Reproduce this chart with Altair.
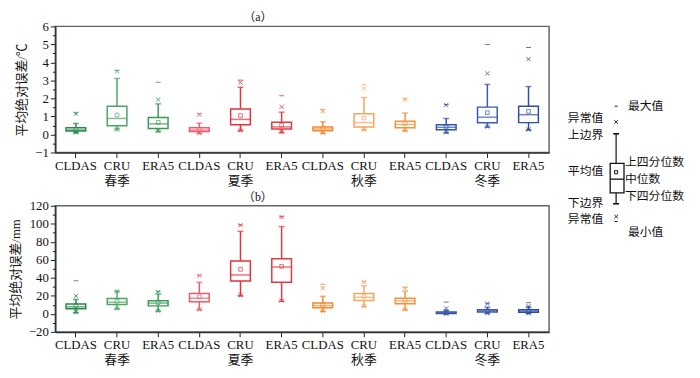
import altair as alt
import pandas as pd

seasons = ["春季", "夏季", "秋季", "冬季"]
products = ["CLDAS", "CRU", "ERA5"]
colors = ["#2b8a4b", "#4ea563", "#3a9a55",
          "#f05a66", "#e5323c", "#e23a44",
          "#f3892e", "#f7a45e", "#f5913d",
          "#3456a8", "#3a5aab", "#2f4e9e"]
keys = [f"{s} {p}" for s in seasons for p in products]

# panel (a) temperature, ℃
q1_a = [0.19, 0.49, 0.33, 0.17, 0.54, 0.31, 0.21, 0.42, 0.38, 0.26, 0.65, 0.66]
med_a = [0.25, 0.89, 0.59, 0.25, 0.84, 0.42, 0.31, 0.66, 0.56, 0.40, 0.96, 1.10]
q3_a = [0.37, 1.57, 0.94, 0.37, 1.42, 0.68, 0.42, 1.15, 0.73, 0.54, 1.52, 1.57]
mean_a = [0.28, 1.08, 0.68, 0.28, 1.05, 0.52, 0.33, 0.91, 0.60, 0.42, 1.21, 1.28]
wlo_a = [0.10, 0.31, 0.17, 0.07, 0.22, 0.12, 0.08, 0.26, 0.21, 0.10, 0.42, 0.26]
whi_a = [0.61, 3.11, 1.70, 0.63, 2.62, 1.24, 0.71, 2.05, 1.19, 0.89, 2.78, 2.66]
olo_a = [0.12, 0.28, 0.19, 0.08, 0.24, 0.14, 0.09, 0.28, 0.23, 0.12, 0.44, 0.28]
ohi_a = [1.15, 3.50, 1.94, 1.10, 2.89, 1.54, 1.29, 2.55, 1.94, 1.63, 3.39, 4.18]
min_a = [0.08, 0.25, 0.15, 0.05, 0.20, 0.10, 0.06, 0.24, 0.20, 0.09, 0.40, 0.24]
max_a = [1.20, 3.55, 2.90, 1.15, 3.02, 2.15, 1.40, 2.76, 1.98, 1.66, 4.99, 4.83]

# panel (b) precipitation, mm
q1_b = [5.7, 10.3, 8.9, 13.5, 36.5, 35.0, 6.8, 14.9, 11.3, 0.3, 2.1, 1.8]
med_b = [7.8, 13.0, 12.0, 17.4, 43.2, 52.0, 9.2, 18.4, 14.5, 1.0, 3.3, 3.2]
q3_b = [11.0, 17.0, 14.5, 22.7, 58.7, 61.2, 12.1, 22.7, 17.4, 2.1, 4.7, 4.7]
mean_b = [9.0, 14.0, 12.5, 18.8, 49.5, 52.7, 10.0, 19.5, 15.0, 1.5, 3.5, 3.4]
wlo_b = [1.5, 5.7, 3.2, 4.7, 20.2, 14.2, 2.9, 8.2, 4.7, 0.0, 0.5, 0.5]
whi_b = [16.0, 24.8, 22.0, 35.0, 91.6, 96.9, 19.5, 31.2, 25.1, 4.2, 7.4, 7.8]
olo_b = [2.0, 6.0, 3.5, 5.0, 21.0, 14.8, 3.2, 8.6, 5.0, 0.2, 0.7, 0.7]
ohi_b = [19.8, 25.0, 24.4, 42.4, 98.3, 107.5, 28.7, 35.4, 28.3, 6.0, 11.3, 8.5]
min_b = [1.2, 5.4, 3.0, 4.4, 19.8, 13.8, 2.6, 7.9, 4.4, 0.0, 0.3, 0.3]
max_b = [36.8, 25.5, 25.0, 43.0, 98.8, 108.0, 32.9, 36.0, 29.5, 13.1, 11.8, 12.4]

yticks_a = [-1, 0, 1, 2, 3, 4, 5, 6]
yminor_a = [-0.5, 0.5, 1.5, 2.5, 3.5, 4.5, 5.5]
yticks_b = [-20, 0, 20, 40, 60, 80, 100, 120]
yminor_b = [-10, 10, 30, 50, 70, 90, 110]

LAT = "Liberation Serif, Noto Sans CJK SC"
CJK = "Noto Sans CJK SC"


def panel(q1, med, q3, mean, wlo, whi, olo, ohi, mn, mx, ydom, yticks, yminor, ytitle, title):
    df = pd.DataFrame({"key": keys, "col": colors, "q1": q1, "med": med, "q3": q3,
                       "mean": mean, "wlo": wlo, "whi": whi, "olo": olo, "ohi": ohi,
                       "mn": mn, "mx": mx})
    sc = alt.Scale(domain=ydom, nice=False, zero=False)
    xax = alt.Axis(
        labelExpr="indexof(datum.label, 'CRU') >= 0 ? ['CRU', slice(datum.label, 0, 2)] : slice(datum.label, 3)",
        labelAngle=0, tickSize=5, tickColor="#222", domainColor="#333", domainWidth=1.5,
        labelFont=LAT, labelFontSize=13, labelColor="#111", labelPadding=2, labelLineHeight=15,
        title=None, grid=False)
    x = alt.X("key:N", sort=keys, axis=xax, scale=alt.Scale(paddingInner=0.1, paddingOuter=0.05))
    col = alt.Color("col:N", scale=None)
    major = alt.Axis(values=yticks, orient="left", tickSize=5, tickColor="#222", domainColor="#333",
                     domainWidth=1.5, labelFont=LAT, labelFontSize=13, labelColor="#111",
                     labelPadding=2, title=ytitle, titleFont=LAT, titleFontSize=13,
                     titleFontWeight="normal", titleColor="#111", titlePadding=6, grid=False)
    minor = alt.Axis(values=yminor, orient="left", tickSize=3, tickColor="#222", labels=False,
                     domain=False, title=None, grid=False)

    box = alt.Chart(df).mark_bar(size=20, fill="white", strokeWidth=1.5).encode(
        x=x, y=alt.Y("q1:Q", scale=sc, axis=major), y2="q3:Q",
        stroke=alt.Stroke("col:N", scale=None))
    wh1 = alt.Chart(df).mark_rule(strokeWidth=1.5).encode(
        x=x, y=alt.Y("whi:Q", scale=sc, axis=minor), y2="q3:Q", color=col)
    wh2 = alt.Chart(df).mark_rule(strokeWidth=1.5).encode(
        x=x, y=alt.Y("wlo:Q", scale=sc, axis=None), y2="q1:Q", color=col)
    medt = alt.Chart(df).mark_tick(size=20, thickness=1.5).encode(
        x=x, y=alt.Y("med:Q", scale=sc, axis=None), color=col)
    caps = [alt.Chart(df).mark_tick(size=6, thickness=1.5).encode(
        x=x, y=alt.Y(f"{f}:Q", scale=sc, axis=None), color=col) for f in ["whi", "wlo"]]
    ends = [alt.Chart(df).mark_tick(size=5, thickness=1, opacity=0.8).encode(
        x=x, y=alt.Y(f"{f}:Q", scale=sc, axis=None), color=col) for f in ["mx", "mn"]]
    outs = [alt.Chart(df).mark_point(shape="M-1,-1L1,1M-1,1L1,-1", size=18, strokeWidth=1,
                                     filled=False, opacity=0.85).encode(
        x=x, y=alt.Y(f"{f}:Q", scale=sc, axis=None), color=col) for f in ["ohi", "olo"]]
    meanp = alt.Chart(df).mark_point(shape="square", size=14, strokeWidth=1, filled=False).encode(
        x=x, y=alt.Y("mean:Q", scale=sc, axis=None), color=col)

    return alt.layer(box, wh1, wh2, medt, *caps, *ends, *outs, meanp).resolve_axis(
        y="independent").properties(
        width=501, height=128,
        title=alt.TitleParams(title, font=LAT, fontSize=12, fontWeight="normal", color="#111",
                              dx=-45, offset=-4))


pa = panel(q1_a, med_a, q3_a, mean_a, wlo_a, whi_a, olo_a, ohi_a, min_a, max_a,
           [-1, 6], yticks_a, yminor_a, "平均绝对误差/℃", "（a）")
pb = panel(q1_b, med_b, q3_b, mean_b, wlo_b, whi_b, olo_b, ohi_b, min_b, max_b,
           [-20, 120], yticks_b, yminor_b, "平均绝对误差/mm", "（b）")

# schematic legend glyph (abstract units)
lg_stats = {"mx": 14.5, "ohi": 12.9, "whi": 11.7, "q3": 8.7, "mean": 7.8, "med": 7.1,
            "q1": 5.7, "wlo": 4.6, "olo": 3.3, "mn": 2.8}
lg_text = ["最大值", "异常值", "上边界", "上四分位数", "平均值", "中位数", "下四分位数",
           "下边界", "异常值", "最小值"]
lg_text_y = [14.5, 13.3, 11.6, 8.8, 7.9, 7.1, 5.4, 4.7, 3.0, 1.7]
lg_text_x = [1.1, -5.0, -5.0, 0.8, -5.0, 0.8, 0.8, -5.0, -5.0, 1.1]

g = pd.DataFrame([dict(lg_stats, xl=-0.7, xr=0.7, xc=-0.1, cl=-0.4, cr=0.2, dl=-0.25, dr=0.05)])
t = pd.DataFrame({"label": lg_text, "y": lg_text_y, "x": lg_text_x})
lx = alt.Scale(domain=[-5.2, 7.6], nice=False, zero=False)
ly = alt.Scale(domain=[0, 22.6], nice=False, zero=False)
base = alt.Chart(g)
X = lambda f: alt.X(f"{f}:Q", scale=lx, axis=None)
Y = lambda f: alt.Y(f"{f}:Q", scale=ly, axis=None)
lg_layers = [
    base.mark_rule(strokeWidth=1.2, color="#111").encode(x=X("xc"), y=Y("whi"), y2="q3:Q"),
    base.mark_rule(strokeWidth=1.2, color="#111").encode(x=X("xc"), y=Y("q1"), y2="wlo:Q"),
    base.mark_bar(fill="white", stroke="#111", strokeWidth=1.3).encode(
        x=X("xl"), x2="xr:Q", y=Y("q1"), y2="q3:Q"),
    base.mark_rule(strokeWidth=1.3, color="#111").encode(x=X("xl"), x2="xr:Q", y=Y("med")),
    base.mark_rule(strokeWidth=1.6, color="#111").encode(x=X("cl"), x2="cr:Q", y=Y("whi")),
    base.mark_rule(strokeWidth=1.6, color="#111").encode(x=X("cl"), x2="cr:Q", y=Y("wlo")),
    base.mark_rule(strokeWidth=1, color="#111").encode(x=X("dl"), x2="dr:Q", y=Y("mx")),
    base.mark_rule(strokeWidth=1, color="#111").encode(x=X("dl"), x2="dr:Q", y=Y("mn")),
    base.mark_point(shape="M-1,-1L1,1M-1,1L1,-1", size=14, strokeWidth=0.9, filled=False,
                    color="#111", opacity=1).encode(x=X("xc"), y=Y("ohi")),
    base.mark_point(shape="M-1,-1L1,1M-1,1L1,-1", size=14, strokeWidth=0.9, filled=False,
                    color="#111", opacity=1).encode(x=X("xc"), y=Y("olo")),
    base.mark_point(shape="square", size=10, strokeWidth=1, filled=False, color="#111",
                    opacity=1).encode(x=X("xc"), y=Y("mean")),
    alt.Chart(t).mark_text(align="left", baseline="middle", font=CJK, fontSize=12,
                           color="#111").encode(x=X("x"), y=Y("y"), text="label:N"),
]
legend = alt.layer(*lg_layers).properties(width=128, height=226,
                                          view=alt.ViewBackground(strokeWidth=0))

chart = alt.hconcat(alt.vconcat(pa, pb, spacing=2), legend, spacing=16,
                    padding={"left": 0, "top": 0, "right": 0, "bottom": 0}).configure_view(
    stroke="#666", strokeWidth=1.5)

chart.save("out.html", embed_options={"renderer": "svg", "actions": False})
